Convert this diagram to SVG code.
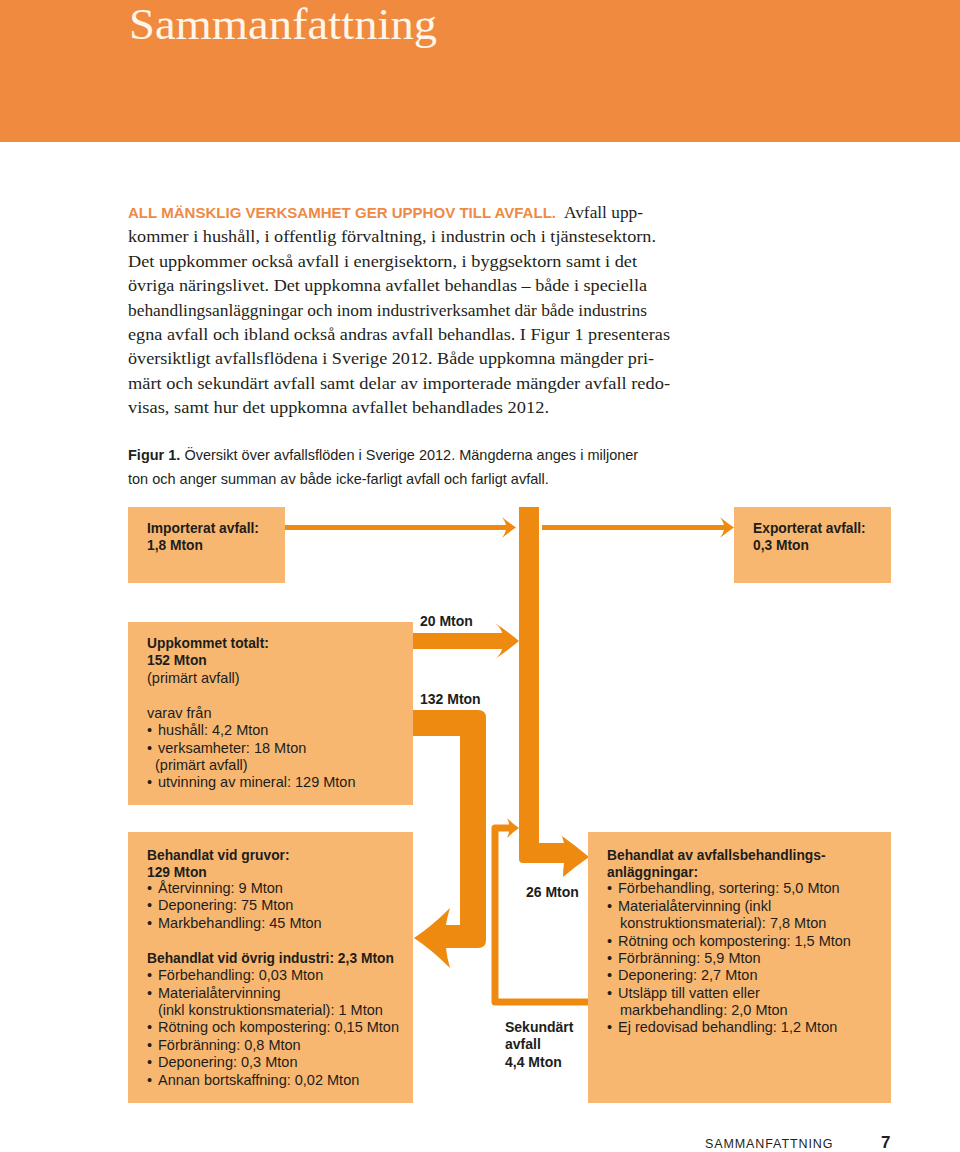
<svg xmlns="http://www.w3.org/2000/svg" width="960" height="1152" viewBox="0 0 960 1152">
<style>
.box{fill:#F8B771}
.flow{fill:#EF8A10}
.line{fill:none;stroke:#EF8A10;stroke-linejoin:round}
.t{font-family:"Liberation Sans",Arial,sans-serif;font-size:14.5px;fill:#1d1d1b}
.b{font-weight:bold;font-size:13.8px}
.lbl{font-family:"Liberation Sans",Arial,sans-serif;font-weight:bold;font-size:14px;fill:#1d1d1b}
.s{font-family:"Liberation Serif","Times New Roman",serif;font-size:17.5px;fill:#231f20}
.cap{font-family:"Liberation Sans",Arial,sans-serif;font-size:14.5px;fill:#231f20}
</style>
<rect width="960" height="1152" fill="#ffffff"/>
<g id="header">
<rect x="0" y="0" width="960" height="142" fill="#F08A3F"/>
<text x="129" y="39" font-family="Liberation Serif,'Times New Roman',serif" font-size="45" fill="#FFF6EA" textLength="308" lengthAdjust="spacingAndGlyphs">Sammanfattning</text>
</g>
<g id="intro">
<text y="218" class="s"><tspan x="128" font-family="Liberation Sans,Arial,sans-serif" font-weight="bold" font-size="15" fill="#EE8A45" textLength="428" lengthAdjust="spacingAndGlyphs">ALL MÄNSKLIG VERKSAMHET GER UPPHOV TILL AVFALL.</tspan><tspan x="564" textLength="79" lengthAdjust="spacingAndGlyphs">Avfall upp-</tspan></text>
<text x="128" y="242.4" class="s" textLength="528" lengthAdjust="spacingAndGlyphs">kommer i hushåll, i offentlig förvaltning, i industrin och i tjänstesektorn.</text>
<text x="128" y="266.8" class="s" textLength="509" lengthAdjust="spacingAndGlyphs">Det uppkommer också avfall i energisektorn, i byggsektorn samt i det</text>
<text x="128" y="291.2" class="s" textLength="519" lengthAdjust="spacingAndGlyphs">övriga näringslivet. Det uppkomna avfallet behandlas – både i speciella</text>
<text x="128" y="315.6" class="s" textLength="519" lengthAdjust="spacingAndGlyphs">behandlingsanläggningar och inom industriverksamhet där både industrins</text>
<text x="128" y="340" class="s" textLength="542" lengthAdjust="spacingAndGlyphs">egna avfall och ibland också andras avfall behandlas. I Figur 1 presenteras</text>
<text x="128" y="364.4" class="s" textLength="526" lengthAdjust="spacingAndGlyphs">översiktligt avfallsflödena i Sverige 2012. Både uppkomna mängder pri-</text>
<text x="128" y="388.8" class="s" textLength="542" lengthAdjust="spacingAndGlyphs">märt och sekundärt avfall samt delar av importerade mängder avfall redo-</text>
<text x="128" y="413.2" class="s" textLength="421" lengthAdjust="spacingAndGlyphs">visas, samt hur det uppkomna avfallet behandlades 2012.</text>
</g>
<g id="caption">
<text y="460" class="cap"><tspan x="128" font-weight="bold">Figur 1.</tspan> Översikt över avfallsflöden i Sverige 2012. Mängderna anges i miljoner</text>
<text x="128" y="484" class="cap">ton och anger summan av både icke-farligt avfall och farligt avfall.</text>
</g>
<g id="connectors">
<rect class="flow" x="285" y="525" width="222" height="5"/>
<path class="flow" d="M516,527.5 Q509,523 502,517 Q505,521 506,525 L506,530 Q505,534 502,538 Q509,532 516,527.5 Z"/>
<rect class="flow" x="542" y="525" width="182" height="5"/>
<path class="flow" d="M734,527.5 Q727,523 720,517 Q723,521 724,525 L724,530 Q723,534 720,538 Q727,532 734,527.5 Z"/>
<path class="flow" d="M519,507 L539,507 L539,843 L564,843 Q563,840 562,836 Q576,846 589,857 Q576,866 563,877 Q563,870 564,863 L523,863 Q519,863 519,859 Z"/>
<path class="flow" d="M413,633 L502,633 Q501,628 495,623 Q507,631 519,641 Q507,651 495,659 Q501,654 502,649 L413,649 Z"/>
<path class="flow" d="M413,710 L478,710 Q486,710 486,718 L486,940 Q486,948 478,948 L446,948 Q447,958 450,968 Q432,950 414,938 Q432,926 450,908 Q447,918 446,925 L460,925 L460,736 L413,736 Z"/>
<path class="line" stroke-width="7" d="M588,1002 L495,1002 L495,828 L510,828"/>
<path class="flow" d="M519,828 Q513,824 507,818 Q509,822 509,824.5 L509,831.5 Q509,834 507,838 Q513,832 519,828 Z"/>
</g>
<g id="node-import">
<rect class="box" x="128" y="507" width="157" height="76"/>
<text class="t b" x="147" y="533">Importerat avfall:</text>
<text class="t b" x="147" y="550">1,8 Mton</text>
</g>
<g id="node-export">
<rect class="box" x="734" y="507" width="157" height="76"/>
<text class="t b" x="753" y="533">Exporterat avfall:</text>
<text class="t b" x="753" y="550">0,3 Mton</text>
</g>
<g id="node-uppkommet">
<rect class="box" x="128" y="622" width="285" height="183"/>
<text class="t b" x="147" y="648">Uppkommet totalt:</text>
<text class="t b" x="147" y="665">152 Mton</text>
<text class="t" x="147" y="683">(primärt avfall)</text>
<text class="t" x="147" y="718">varav från</text>
<text class="t" y="735"><tspan x="147">•</tspan><tspan x="158">hushåll: 4,2 Mton</tspan></text>
<text class="t" y="753"><tspan x="147">•</tspan><tspan x="158">verksamheter: 18 Mton</tspan></text>
<text class="t" x="155" y="770">(primärt avfall)</text>
<text class="t" y="787"><tspan x="147">•</tspan><tspan x="158">utvinning av mineral: 129 Mton</tspan></text>
</g>
<g id="node-gruvor">
<rect class="box" x="128" y="832" width="285" height="271"/>
<text class="t b" x="147" y="860">Behandlat vid gruvor:</text>
<text class="t b" x="147" y="877">129 Mton</text>
<text class="t" y="893"><tspan x="147">•</tspan><tspan x="158">Återvinning: 9 Mton</tspan></text>
<text class="t" y="910"><tspan x="147">•</tspan><tspan x="158">Deponering: 75 Mton</tspan></text>
<text class="t" y="928"><tspan x="147">•</tspan><tspan x="158">Markbehandling: 45 Mton</tspan></text>
<text class="t b" x="147" y="963">Behandlat vid övrig industri: 2,3 Mton</text>
<text class="t" y="980"><tspan x="147">•</tspan><tspan x="158">Förbehandling: 0,03 Mton</tspan></text>
<text class="t" y="998"><tspan x="147">•</tspan><tspan x="158">Materialåtervinning</tspan></text>
<text class="t" x="158" y="1015">(inkl konstruktionsmaterial): 1 Mton</text>
<text class="t" y="1032"><tspan x="147">•</tspan><tspan x="158">Rötning och kompostering: 0,15 Mton</tspan></text>
<text class="t" y="1050"><tspan x="147">•</tspan><tspan x="158">Förbränning: 0,8 Mton</tspan></text>
<text class="t" y="1067"><tspan x="147">•</tspan><tspan x="158">Deponering: 0,3 Mton</tspan></text>
<text class="t" y="1085"><tspan x="147">•</tspan><tspan x="158">Annan bortskaffning: 0,02 Mton</tspan></text>
</g>
<g id="node-anlaggningar">
<rect class="box" x="588" y="832" width="303" height="271"/>
<text class="t b" x="607" y="860">Behandlat av avfallsbehandlings-</text>
<text class="t b" x="607" y="877">anläggningar:</text>
<text class="t" y="893"><tspan x="607">•</tspan><tspan x="618">Förbehandling, sortering: 5,0 Mton</tspan></text>
<text class="t" y="911"><tspan x="607">•</tspan><tspan x="618">Materialåtervinning (inkl</tspan></text>
<text class="t" x="620" y="928">konstruktionsmaterial): 7,8 Mton</text>
<text class="t" y="946"><tspan x="607">•</tspan><tspan x="618">Rötning och kompostering: 1,5 Mton</tspan></text>
<text class="t" y="963"><tspan x="607">•</tspan><tspan x="618">Förbränning: 5,9 Mton</tspan></text>
<text class="t" y="980"><tspan x="607">•</tspan><tspan x="618">Deponering: 2,7 Mton</tspan></text>
<text class="t" y="998"><tspan x="607">•</tspan><tspan x="618">Utsläpp till vatten eller</tspan></text>
<text class="t" x="620" y="1015">markbehandling: 2,0 Mton</text>
<text class="t" y="1032"><tspan x="607">•</tspan><tspan x="618">Ej redovisad behandling: 1,2 Mton</tspan></text>
</g>
<g id="flow-labels">
<text class="lbl" x="420" y="626">20 Mton</text>
<text class="lbl" x="420" y="704">132 Mton</text>
<text class="lbl" x="526" y="897">26 Mton</text>
<text class="lbl" x="505" y="1032">Sekundärt</text>
<text class="lbl" x="505" y="1049">avfall</text>
<text class="lbl" x="505" y="1067">4,4 Mton</text>
</g>
<g id="footer">
<text x="705" y="1148" font-family="Liberation Sans,Arial,sans-serif" font-size="12.5" letter-spacing="0.9" fill="#231f20">SAMMANFATTNING</text>
<text x="881" y="1148" font-family="Liberation Sans,Arial,sans-serif" font-weight="bold" font-size="17" fill="#231f20">7</text>
</g>
</svg>
